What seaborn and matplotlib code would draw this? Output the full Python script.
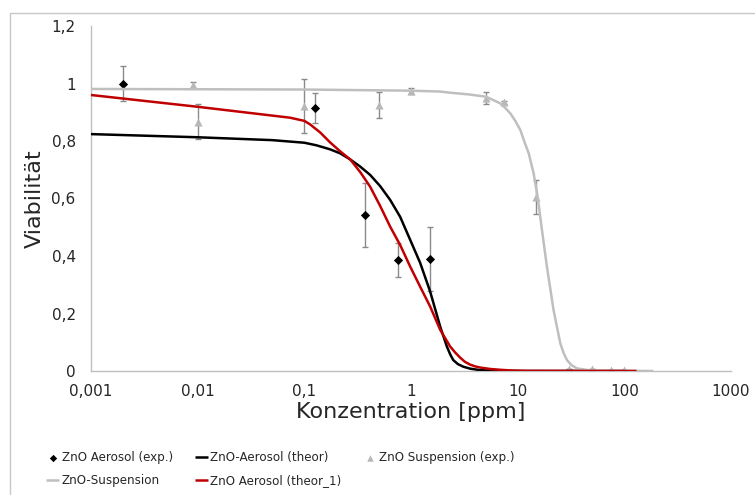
import numpy as np
import pandas as pd
import matplotlib
matplotlib.use("Agg")
import matplotlib.pyplot as plt
from matplotlib.patches import Rectangle
import seaborn as sns

# ---------------- data ----------------
aero_exp_x = [0.002, 0.125, 0.37, 0.75, 1.5]
aero_exp_y = [1.0, 0.915, 0.543, 0.386, 0.39]
aero_exp_err = [0.06, 0.053, 0.11, 0.06, 0.11]

susp_exp_x = [0.009, 0.01, 0.1, 0.5, 1.0, 5.0, 7.5, 15, 30, 50, 75, 100]
susp_exp_y = [0.995, 0.867, 0.922, 0.926, 0.975, 0.95, 0.934, 0.606, 0.007, 0.007, 0.005, 0.005]
susp_exp_err = [0.01, 0.06, 0.095, 0.045, 0.01, 0.02, 0.005, 0.06, 0, 0, 0, 0]

aero_theor_x = [0.001, 0.01, 0.05, 0.1, 0.13, 0.1745, 0.217, 0.269, 0.334, 0.414, 0.514,
                0.638, 0.792, 0.983, 1.219, 1.513, 1.879, 2.17, 2.33, 2.49, 2.75, 3.09,
                3.6, 4.46, 6.0, 10, 100]
aero_theor_y = [0.824, 0.813, 0.803, 0.794, 0.785, 0.771, 0.757, 0.736, 0.711, 0.682, 0.643,
                0.595, 0.536, 0.456, 0.376, 0.276, 0.154, 0.085, 0.058, 0.038, 0.024, 0.015,
                0.008, 0.003, 0.001, 0.0, 0.0]

aero_theor1_x = [0.001, 0.01, 0.0736, 0.1, 0.113, 0.1406, 0.1745, 0.217, 0.269, 0.334,
                 0.414, 0.514, 0.638, 0.792, 0.983, 1.219, 1.513, 1.879, 2.33, 2.6, 2.90,
                 3.2, 3.59, 4.0, 4.46, 5.53, 7.0, 8.5, 12.0, 130]
aero_theor1_y = [0.960, 0.919, 0.881, 0.870, 0.858, 0.830, 0.795, 0.764, 0.736, 0.692,
                 0.641, 0.574, 0.502, 0.438, 0.363, 0.293, 0.224, 0.143, 0.085, 0.064, 0.046,
                 0.032, 0.022, 0.016, 0.012, 0.007, 0.004, 0.002, 0.0005, 0.0]

susp_x = [0.001, 0.01, 0.1, 1.0, 1.88, 2.33, 3.5, 5.05, 6.87, 7.65, 8.53, 9.5, 10.6, 11.5,
          12.7, 14.1, 15.4, 16.9, 18.8, 21.7, 25.1, 27.0, 29.0, 32.0, 36.0, 48.0, 187]
susp_y = [0.981, 0.980, 0.979, 0.975, 0.972, 0.968, 0.962, 0.954, 0.931, 0.915, 0.896, 0.870,
          0.838, 0.800, 0.757, 0.688, 0.606, 0.490, 0.363, 0.212, 0.096, 0.062, 0.038, 0.020,
          0.009, 0.002, 0.0]

x_ticks = [0.001, 0.01, 0.1, 1, 10, 100, 1000]
x_tick_labels = ["0,001", "0,01", "0,1", "1", "10", "100", "1000"]
y_ticks = [0, 0.2, 0.4, 0.6, 0.8, 1.0, 1.2]
y_tick_labels = ["0", "0,2", "0,4", "0,6", "0,8", "1", "1,2"]

labels = {
    "aero_exp": "ZnO Aerosol (exp.)",
    "aero_theor": "ZnO-Aerosol (theor)",
    "susp_exp": "ZnO Suspension (exp.)",
    "susp": "ZnO-Suspension",
    "aero_theor1": "ZnO Aerosol (theor_1)",
}

# ---------------- style ----------------
sns.set_style("white")
plt.rcParams["font.family"] = ["DejaVu Sans"]

W, H = 755, 495
fig = plt.figure(figsize=(W / 100, H / 100), dpi=100)
ax = fig.add_axes([91 / W, 1 - 371 / H, (731 - 91) / W, (371 - 26) / H])

GRAY_AX = "#bfbfbf"
RED = "#c00000"
LGRAY = "#bfbfbf"
TRI = "#b8b8b8"
ERR = "#8a8a8a"

# Aerosol exp (diamonds)
ax.errorbar(aero_exp_x, aero_exp_y, yerr=aero_exp_err, fmt="none", ecolor=ERR,
            elinewidth=1.0, capsize=1.9, capthick=1.0, zorder=2)
sns.scatterplot(x=aero_exp_x, y=aero_exp_y, ax=ax, marker="D", color="black", s=22,
                linewidth=0, label=labels["aero_exp"], legend=False, zorder=3)

# Aerosol theor (black)
sns.lineplot(x=aero_theor_x, y=aero_theor_y, ax=ax, color="black", linewidth=1.8,
             sort=False, estimator=None, label=labels["aero_theor"], legend=False, zorder=4)

# Suspension exp (triangles)
ax.errorbar(susp_exp_x, susp_exp_y, yerr=susp_exp_err, fmt="none", ecolor=ERR,
            elinewidth=1.0, capsize=1.9, capthick=1.0, zorder=2)
sns.scatterplot(x=susp_exp_x, y=susp_exp_y, ax=ax, marker="^", color=TRI, s=34,
                linewidth=0, label=labels["susp_exp"], legend=False, zorder=3)

# Suspension curve (gray)
sns.lineplot(x=susp_x, y=susp_y, ax=ax, color=LGRAY, linewidth=1.8,
             sort=False, estimator=None, label=labels["susp"], legend=False, zorder=4)

# Aerosol theor_1 (red)
sns.lineplot(x=aero_theor1_x, y=aero_theor1_y, ax=ax, color=RED, linewidth=1.8,
             sort=False, estimator=None, label=labels["aero_theor1"], legend=False, zorder=5)

for ln in ax.get_lines():
    ln.set_solid_joinstyle("round")
    ln.set_solid_capstyle("butt")

ax.set_xscale("log")
ax.set_xlim(0.001, 1000)
ax.set_ylim(0, 1.2)
ax.set_xticks(x_ticks)
ax.set_xticklabels(x_tick_labels)
ax.xaxis.set_minor_locator(matplotlib.ticker.NullLocator())
ax.set_yticks(y_ticks)
ax.set_yticklabels(y_tick_labels)

for s in ["top", "right"]:
    ax.spines[s].set_visible(False)
for s in ["left", "bottom"]:
    ax.spines[s].set_color(GRAY_AX)
    ax.spines[s].set_linewidth(1.0)

ax.tick_params(axis="both", which="major", direction="out", length=4, width=1,
               color=GRAY_AX, labelsize=11, labelcolor="#262626")
ax.tick_params(axis="x", pad=5)
ax.tick_params(axis="y", pad=7)
ax.grid(False)

ax.set_xlabel("Konzentration [ppm]", fontsize=16, color="#262626")
ax.set_ylabel("Viabilität", fontsize=16, color="#262626")
ax.xaxis.set_label_coords(0.5, -0.09)
ax.yaxis.set_label_coords(-0.072, 0.5)

# legend (3 columns, filled column-wise)
h, l = ax.get_legend_handles_labels()
hd = dict(zip(l, h))
order = [labels["aero_exp"], labels["susp"], labels["aero_theor"],
         labels["aero_theor1"], labels["susp_exp"]]
leg = fig.legend([hd[k] for k in order], order, loc="upper left",
                 bbox_to_anchor=(46 / W, 1 - 451 / H), ncol=3, frameon=False,
                 fontsize=8.6, handlelength=1.1, handletextpad=0.2,
                 columnspacing=1.85, labelspacing=0.85, borderaxespad=0,
                 borderpad=0, markerscale=0.8)
for t in leg.get_texts():
    t.set_color("#262626")

# outer frame of the chart area
fig.add_artist(Rectangle((10 / W, -0.5), 2.0, (1 - 13 / H) + 0.5,
                         transform=fig.transFigure, fill=False,
                         edgecolor="#c8c8c8", linewidth=1.0, zorder=0))

fig.savefig("out.png", dpi=100)
